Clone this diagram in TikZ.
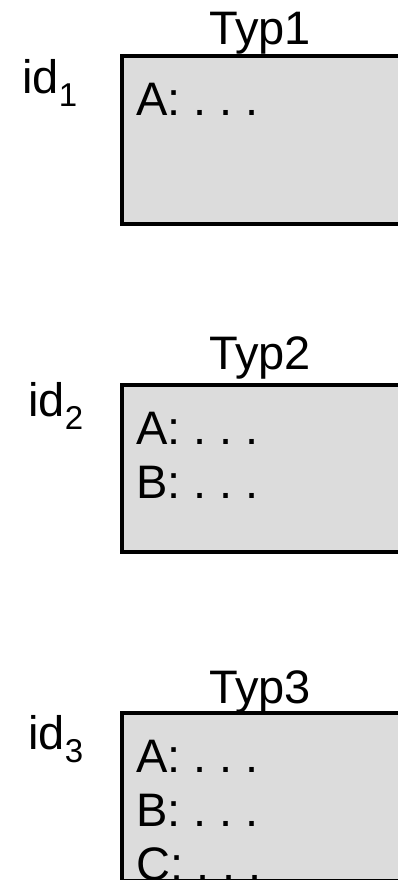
\documentclass[tikz,border=0pt]{standalone}
\usepackage{fontspec}
\setmainfont{Liberation Sans}
\frenchspacing
\definecolor{boxgray}{RGB}{220,220,220}
\tikzstyle{typebox} = [rectangle, minimum width=320pt, minimum height=168pt, draw=black, line width=4pt, fill=boxgray, inner sep=0pt, outer sep=0pt, anchor=north west]
\tikzstyle{txt} = [inner sep=0pt, font=\fontsize{47}{54}\selectfont]
\tikzstyle{typename} = [txt, anchor=base]
\tikzstyle{field} = [txt, anchor=base west]
\tikzstyle{ident} = [txt, anchor=base west]
\newcommand{\idsub}[1]{id\raisebox{-13pt}{\fontsize{33}{33}\selectfont #1}}

\begin{document}
\begin{tikzpicture}[x=1pt, y=-1pt]
      \clip (0,0) rectangle (398,880);
      \useasboundingbox (0,0) rectangle (398,880);

      % Typ1
      \node (box1) [typebox] at (122,56) {};
      \node (typ1) [typename] at (260,45) {Typ1};
      \node (id1) [ident] at (22,94) {\idsub{1}};
      \node (a1) [field] at (136,116) {A: . . .};

      % Typ2
      \node (box2) [typebox, minimum height=167pt] at (122,385) {};
      \node (typ2) [typename] at (260,369) {Typ2};
      \node (id2) [ident] at (28,416) {\idsub{2}};
      \node (a2) [field] at (136,444) {A: . . .};
      \node (b2) [field] at (136,498) {B: . . .};

      % Typ3
      \node (box3) [typebox] at (122,713) {};
      \node (typ3) [typename] at (260,703) {Typ3};
      \node (id3) [ident] at (28,749) {\idsub{3}};
      \node (a3) [field] at (136,772) {A: . . .};
      \node (b3) [field] at (136,826) {B: . . .};
      \node (c3) [field] at (136,880) {C: . . .};
\end{tikzpicture}
\end{document}
